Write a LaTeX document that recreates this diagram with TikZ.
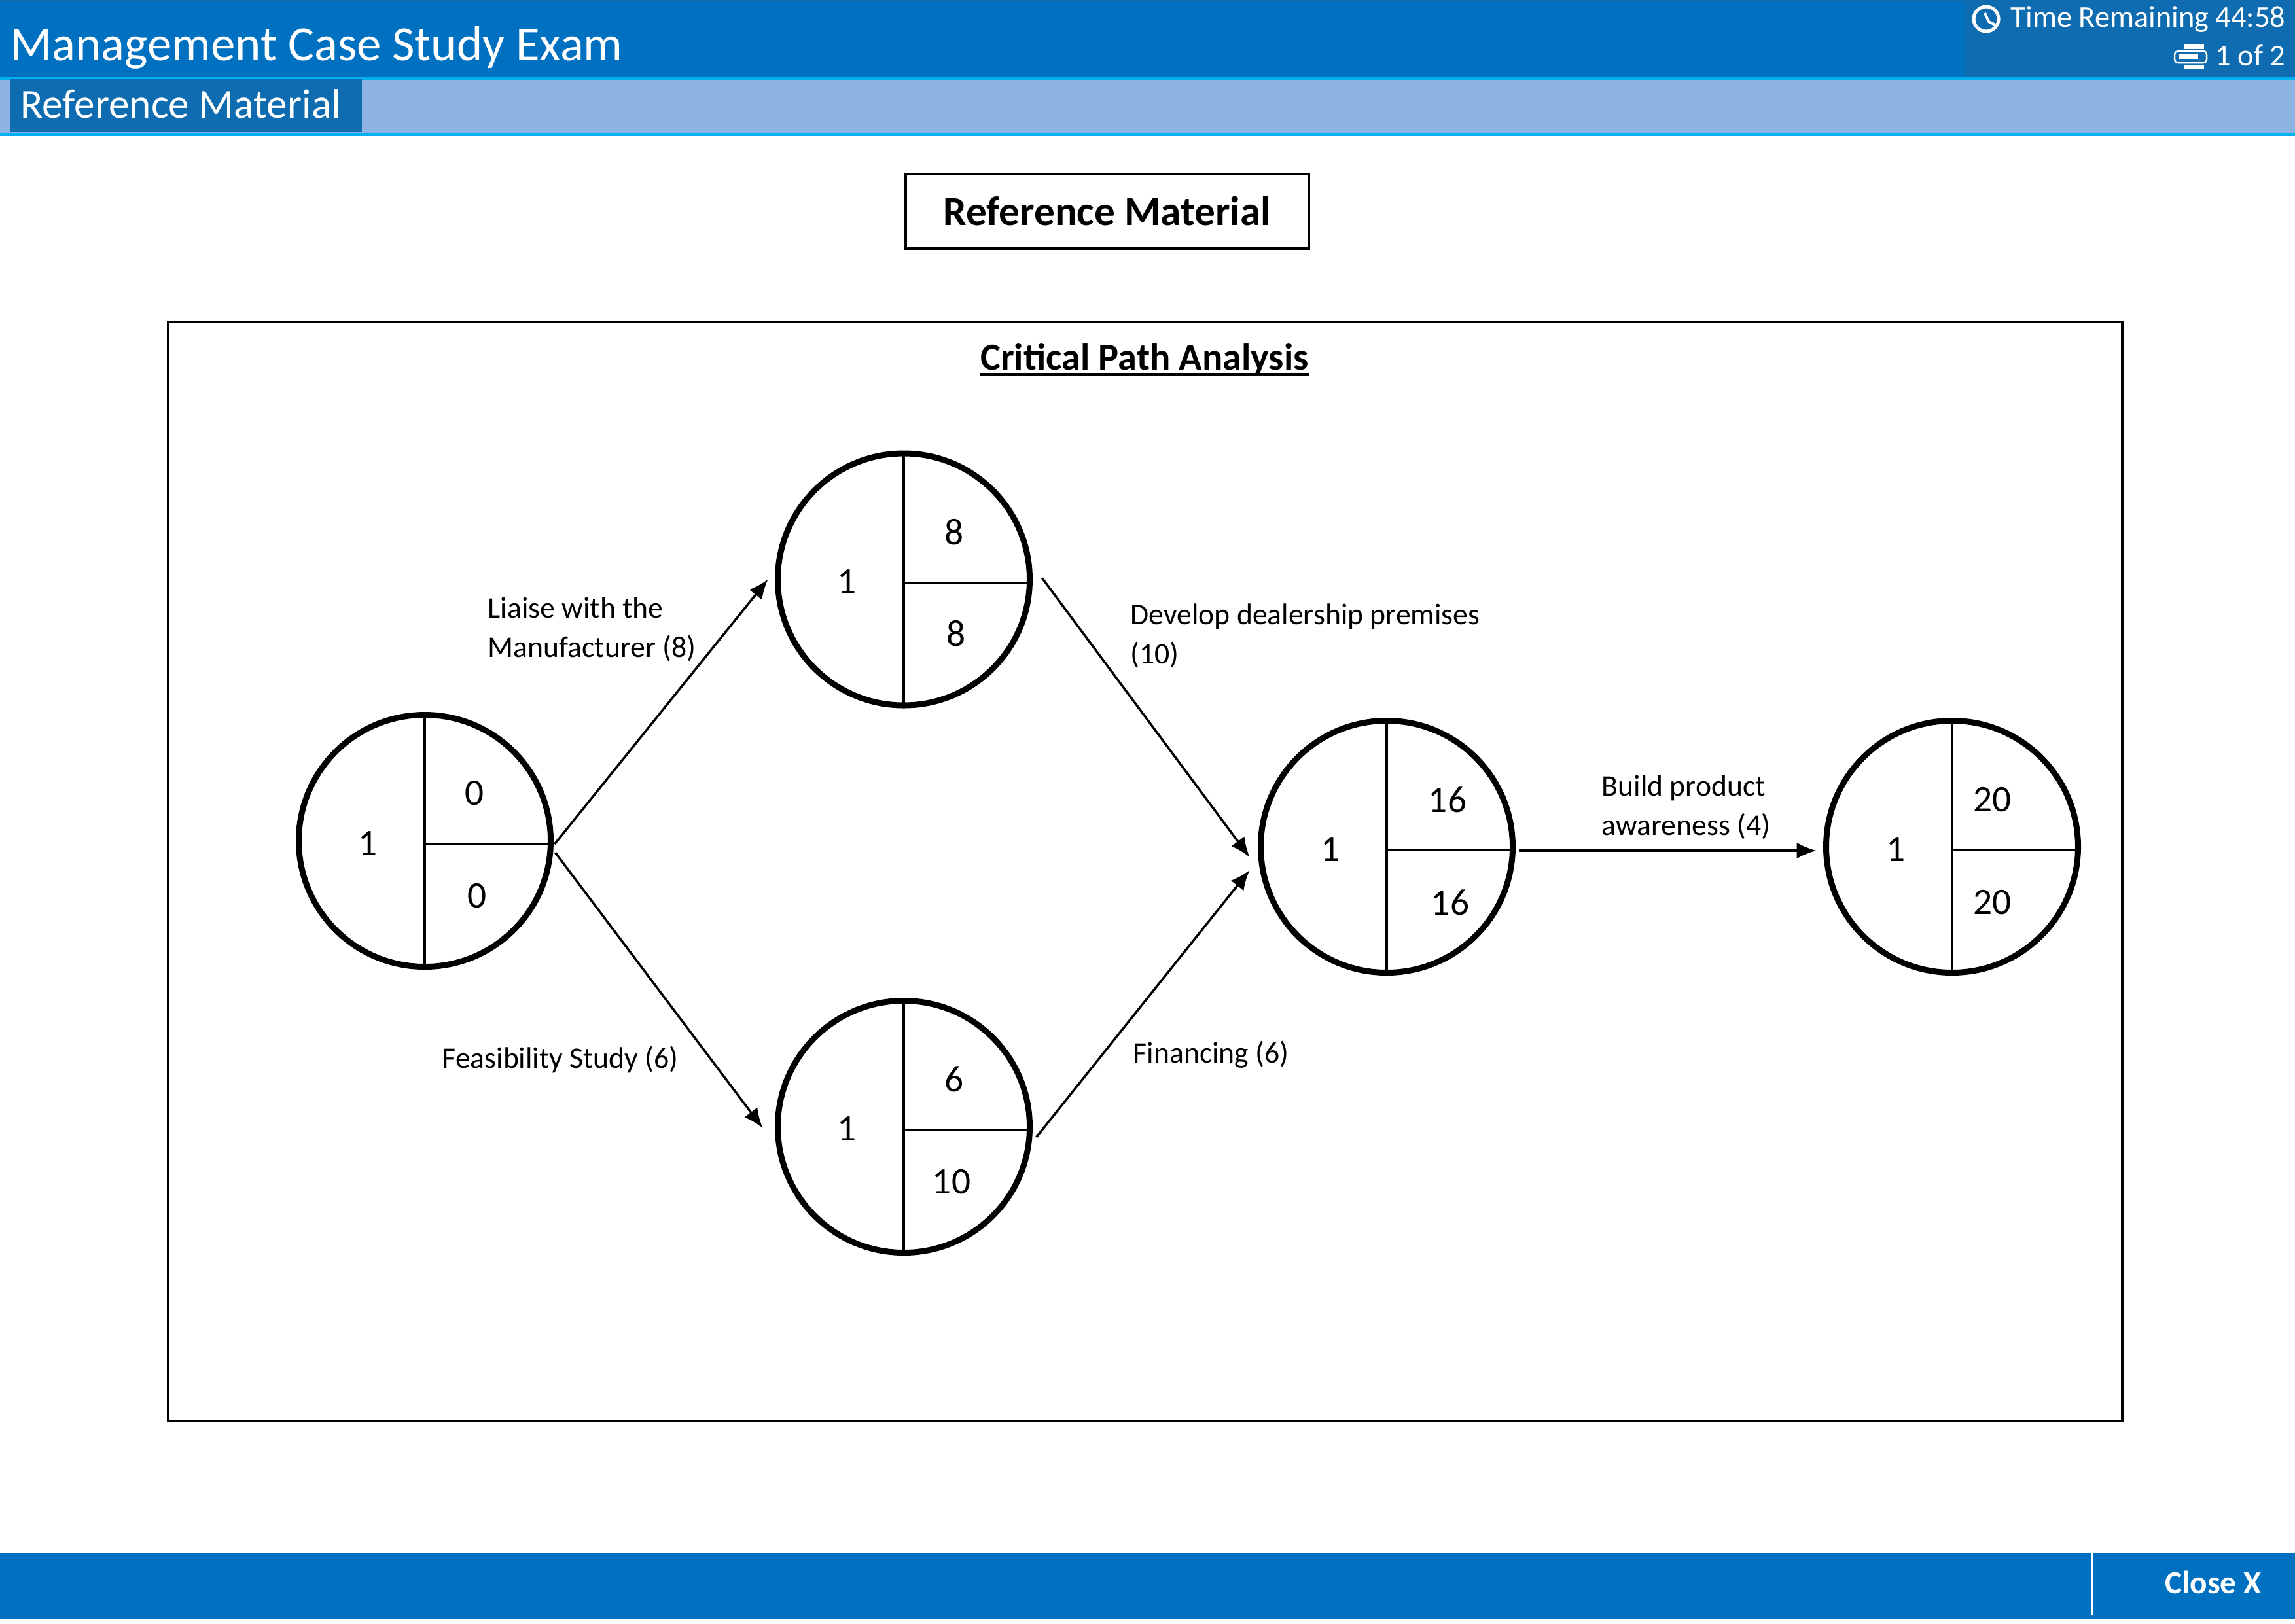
\documentclass[tikz,border=0pt]{standalone}
\usepackage{fontspec}
\setmainfont{Carlito}
\usetikzlibrary{arrows.meta}
\definecolor{barblue}{HTML}{0070C0}
\definecolor{darkblue}{HTML}{0F6CB0}
\definecolor{paleblue}{HTML}{8DB4E2}
\definecolor{linecyan}{HTML}{00B0F0}
\tikzset{
  eventcircle/.style={circle, draw=black, fill=white, line width=0.09cm, minimum size=3.85cm, inner sep=0pt, outer sep=0pt},
  divider/.style={draw=black, line width=0.035cm},
  flow/.style={draw=black, line width=0.035cm, -{Latex[length=0.3cm,width=0.25cm]}},
  cellnum/.style={font=\fontsize{16.3}{20}\selectfont, text=black},
  tasklabel/.style={font=\fontsize{13}{17}\selectfont, text=black, anchor=west, align=left, inner sep=0pt},
  headtext/.style={text=white, inner sep=0pt}
}
\begin{document}
\begin{tikzpicture}
  \useasboundingbox (0cm,0cm) rectangle (35.07cm,-24.81cm);
  \filldraw[fill=white, draw=none] (0cm,0cm) rectangle (35.07cm,-24.81cm);

  % top bars
  \filldraw[fill=barblue, draw=none] (0cm,0cm) rectangle (35.07cm,-1.18cm);
  \filldraw[fill=darkblue, draw=none] (30.03cm,0cm) rectangle (35.07cm,-1.18cm);
  \filldraw[fill=darkblue, draw=none] (0cm,0cm) rectangle (35.07cm,-0.03cm);
  \filldraw[fill=paleblue, draw=none] (0cm,-1.18cm) rectangle (35.07cm,-2.04cm);
  \filldraw[fill=linecyan, draw=none] (0cm,-1.18cm) rectangle (35.07cm,-1.23cm);
  \filldraw[fill=linecyan, draw=none] (0cm,-2.04cm) rectangle (35.07cm,-2.08cm);
  \filldraw[fill=darkblue, draw=none] (0.15cm,-1.2cm) rectangle (5.53cm,-2.02cm);
  \node[headtext, anchor=west, font=\fontsize{21.3}{24}\selectfont] (examtitle) at (0.15cm,-0.73cm) {Management Case Study Exam};
  \node[headtext, anchor=west, font=\fontsize{18}{24}\selectfont] (tabtitle) at (0.31cm,-1.59cm) {Reference Material};
  \node[headtext, anchor=east, font=\fontsize{13.2}{16}\selectfont] (timeleft) at (34.93cm,-0.3cm) {Time Remaining 44:58};
  \node[headtext, anchor=east, font=\fontsize{13.2}{16}\selectfont] (pagecount) at (34.93cm,-0.85cm) {1 of 2};

  % clock and page icons
  \draw[white, line width=0.05cm] (30.35cm,-0.29cm) circle (0.19cm);
  \draw[white, line width=0.04cm] (30.33cm,-0.2cm) -- (30.39cm,-0.33cm) -- (30.49cm,-0.38cm);
  \draw[white, line width=0.025cm, rounded corners=0.05cm] (33.23cm,-0.78cm) rectangle (33.72cm,-0.96cm);
  \filldraw[fill=white, draw=none] (33.37cm,-0.68cm) rectangle (33.68cm,-0.75cm);
  \filldraw[fill=white, draw=none] (33.3cm,-0.83cm) rectangle (33.59cm,-0.9cm);
  \filldraw[fill=white, draw=none] (33.37cm,-1.0cm) rectangle (33.68cm,-1.06cm);

  % bottom bar
  \filldraw[fill=barblue, draw=none] (0cm,-23.74cm) rectangle (35.07cm,-24.75cm);
  \filldraw[fill=white, draw=none] (31.96cm,-23.68cm) rectangle (31.99cm,-24.68cm);
  \node[headtext, font=\bfseries\fontsize{14}{18}\selectfont] (closebtn) at (33.82cm,-24.18cm) {Close X};

  % title box and frame
  \node[draw=black, line width=0.04cm, minimum width=6.16cm, minimum height=1.14cm, inner sep=0pt, font=\bfseries\fontsize{18}{20}\selectfont] (refbox) at (16.92cm,-3.23cm) {Reference Material};
  \draw[black, line width=0.035cm] (2.57cm,-4.92cm) rectangle (32.43cm,-21.72cm);
  \node[font=\bfseries\fontsize{16.6}{20}\selectfont, inner sep=0pt] (pathtitle) at (17.49cm,-5.5cm) {Critical Path Analysis};
  \draw[black, line width=0.05cm] ([yshift=0.035cm]pathtitle.south west) -- ([yshift=0.035cm]pathtitle.south east);

  % events
  \node[eventcircle] (first) at (6.49cm,-12.85cm) {};
  \node[eventcircle] (upper) at (13.81cm,-8.855cm) {};
  \node[eventcircle] (lower) at (13.81cm,-17.22cm) {};
  \node[eventcircle] (join) at (21.19cm,-12.94cm) {};
  \node[eventcircle] (last) at (29.83cm,-12.94cm) {};

  \draw[divider] (first.north) -- (first.south);
  \draw[divider] ([yshift=-0.05cm]first.center) -- ([yshift=-0.05cm]first.east);
  \draw[divider] (upper.north) -- (upper.south);
  \draw[divider] ([yshift=-0.05cm]upper.center) -- ([yshift=-0.05cm]upper.east);
  \draw[divider] (lower.north) -- (lower.south);
  \draw[divider] ([yshift=-0.05cm]lower.center) -- ([yshift=-0.05cm]lower.east);
  \draw[divider] (join.north) -- (join.south);
  \draw[divider] ([yshift=-0.05cm]join.center) -- ([yshift=-0.05cm]join.east);
  \draw[divider] (last.north) -- (last.south);
  \draw[divider] ([yshift=-0.05cm]last.center) -- ([yshift=-0.05cm]last.east);

  \node[cellnum] (firsta) at (5.62cm,-12.89cm) {1};
  \node[cellnum] (firstb) at (7.25cm,-12.12cm) {0};
  \node[cellnum] (firstc) at (7.29cm,-13.69cm) {0};
  \node[cellnum] (uppera) at (12.94cm,-8.89cm) {1};
  \node[cellnum] (upperb) at (14.58cm,-8.13cm) {8};
  \node[cellnum] (upperc) at (14.61cm,-9.68cm) {8};
  \node[cellnum] (lowera) at (12.94cm,-17.25cm) {1};
  \node[cellnum] (lowerb) at (14.58cm,-16.49cm) {6};
  \node[cellnum] (lowerc) at (14.54cm,-18.06cm) {10};
  \node[cellnum] (joina) at (20.33cm,-12.98cm) {1};
  \node[cellnum] (joinb) at (22.12cm,-12.22cm) {16};
  \node[cellnum] (joinc) at (22.16cm,-13.79cm) {16};
  \node[cellnum] (lasta) at (28.97cm,-12.98cm) {1};
  \node[cellnum] (lastb) at (30.44cm,-12.22cm) {20};
  \node[cellnum] (lastc) at (30.44cm,-13.79cm) {20};

  % activities
  \draw[flow] ([shift={(0.06cm,-0.05cm)}]first.east) -- ([shift={(-0.15cm,0cm)}]upper.west);
  \draw[flow] ([shift={(0.07cm,-0.18cm)}]first.east) -- ([shift={(-0.23cm,-0.02cm)}]lower.west);
  \draw[flow] ([shift={(0.19cm,0.02cm)}]upper.east) -- ([shift={(-0.17cm,-0.16cm)}]join.west);
  \draw[flow] ([shift={(0.1cm,-0.16cm)}]lower.east) -- ([shift={(-0.17cm,-0.36cm)}]join.west);
  \draw[flow] ([shift={(0.09cm,-0.06cm)}]join.east) -- ([shift={(-0.15cm,-0.06cm)}]last.west);

  \node[tasklabel] (liaise) at (7.45cm,-9.62cm) {Liaise with the\\Manufacturer (8)};
  \node[tasklabel] (develop) at (17.27cm,-9.72cm) {Develop dealership premises\\(10)};
  \node[tasklabel] (feasibility) at (6.75cm,-16.19cm) {Feasibility Study (6)};
  \node[tasklabel] (financing) at (17.31cm,-16.12cm) {Financing (6)};
  \node[tasklabel] (awareness) at (24.47cm,-12.34cm) {Build product\\awareness (4)};
\end{tikzpicture}
\end{document}
